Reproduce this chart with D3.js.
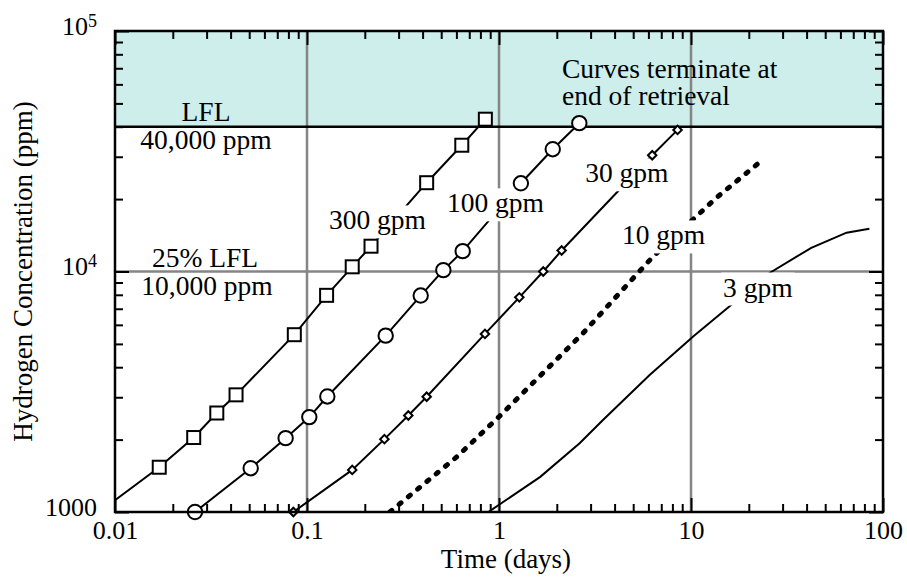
<!DOCTYPE html>
<html>
<head>
<meta charset="utf-8">
<script src="https://cdn.jsdelivr.net/npm/d3@7"></script>
<style>
  body { margin: 0; background: #fff; }
  svg text { font-family: "Liberation Serif", "Times New Roman", serif; fill: #000; }
</style>
</head>
<body>
<svg id="chart" width="907" height="578"></svg>
<script>

// time (days) and hydrogen concentration (ppm) for each retrieval rate
var t300 = [0.01, 0.017, 0.0257, 0.0339, 0.0427, 0.0859, 0.1265, 0.172, 0.2155, 0.42, 0.64, 0.849];
var c300 = [1120, 1535, 2040, 2580, 3070, 5460, 7960, 10460, 12740, 23400, 33500, 42980];

var t100 = [0.0261, 0.0509, 0.0774, 0.1028, 0.1276, 0.257, 0.391, 0.513, 0.647, 1.30, 1.905, 2.62];
var c100 = [1000, 1521, 2028, 2481, 3022, 5410, 7943, 10130, 12150, 23270, 32240, 41380];

var t30 = [0.0849, 0.172, 0.253, 0.337, 0.42, 0.845, 1.276, 1.70, 2.12, 6.28, 8.51];
var c30 = [1000, 1496, 2009, 2519, 3015, 5500, 7810, 10000, 12230, 30430, 38800];

var t10 = [0.27, 0.6, 1.0, 2.75, 4.1, 6.37, 13.6, 23.8];
var c10 = [1000, 1690, 2490, 5560, 7890, 11580, 20300, 29300];

var t3 = [0.88, 1.64, 2.63, 3.49, 6.11, 10.3, 25.8, 42.3, 64.6, 84.9];
var c3 = [1000, 1400, 1930, 2420, 3720, 5380, 9880, 12550, 14500, 15060];

var xMajor = [0.01, 0.1, 1, 10, 100];
var xMajorLabels = ["0.01", "0.1", "1", "10", "100"];
var yMajor = [1000, 10000, 100000];
var yMajorLabels = [["1000", ""], ["10", "4"], ["10", "5"]];

var lfl = 40000;
var gridX = [0.1, 1, 10];
var gridY = [10000];

var svg = d3.select("#chart");

var x = d3.scaleLog().domain([0.01, 100]).range([115, 883]);
var y = d3.scaleLog().domain([1000, 100000]).range([512, 31]);

var x0 = x.range()[0], x1 = x.range()[1];
var yb = y.range()[0], yt = y.range()[1];

svg.append("clipPath").attr("id", "plot")
  .append("rect")
  .attr("x", x0).attr("y", yt)
  .attr("width", x1 - x0).attr("height", yb - yt);

// flammable zone above LFL
svg.append("rect")
  .attr("x", x0).attr("y", yt)
  .attr("width", x1 - x0).attr("height", y(lfl) - yt)
  .attr("fill", "#cdeeea");

// decade grid
var grid = svg.append("g").attr("stroke", "#858585").attr("stroke-width", 2.5);
grid.selectAll(".gx").data(gridX).enter().append("line")
  .attr("x1", d => x(d)).attr("x2", d => x(d))
  .attr("y1", yt).attr("y2", yb);
grid.selectAll(".gy").data(gridY).enter().append("line")
  .attr("x1", x0).attr("x2", x1)
  .attr("y1", d => y(d)).attr("y2", d => y(d));

// LFL line
svg.append("line")
  .attr("x1", x0).attr("x2", x1)
  .attr("y1", y(lfl)).attr("y2", y(lfl))
  .attr("stroke", "#000").attr("stroke-width", 2.5);

var zip = function(ts, cs) {
  return ts.map(function(t, i) { return { t: t, c: cs[i] }; });
};

var series = [
  { data: zip(t300, c300), marker: "square", from: 1 },
  { data: zip(t100, c100), marker: "circle", from: 0 },
  { data: zip(t30, c30), marker: "diamond", from: 0 },
  { data: zip(t10, c10), marker: null, dotted: true },
  { data: zip(t3, c3), marker: null }
];

var line = d3.line().x(d => x(d.t)).y(d => y(d.c));

var curves = svg.append("g").attr("clip-path", "url(#plot)");
series.forEach(function(s) {
  curves.append("path")
    .attr("d", line(s.data))
    .attr("fill", "none")
    .attr("stroke", "#000")
    .attr("stroke-width", s.dotted ? 5 : 2)
    .attr("stroke-linecap", s.dotted ? "round" : "butt")
    .attr("stroke-dasharray", s.dotted ? "2.5,9.5" : null);
});

// curve labels, with white boxes that hide the lines behind them
var labels = [
  { text: "300 gpm", t: 0.130, c: 14960 },
  { text: "100 gpm", t: 0.536, c: 17620 },
  { text: "30 gpm", t: 2.81, c: 23490 },
  { text: "10 gpm", t: 4.37, c: 12960 },
  { text: "3 gpm", t: 14.7, c: 7870 }
];

var lab = svg.append("g");
labels.forEach(function(l) {
  var g = lab.append("g");
  var txt = g.append("text")
    .attr("x", x(l.t)).attr("y", y(l.c))
    .attr("font-size", 27.5)
    .text(l.text);
  var bb = txt.node().getBBox();
  g.insert("rect", "text")
    .attr("x", bb.x - 2).attr("y", bb.y + 1)
    .attr("width", bb.width + 4).attr("height", bb.height + 2)
    .attr("fill", "#fff");
});

// markers
var markers = svg.append("g");
series.forEach(function(s) {
  if (!s.marker) return;
  var pts = s.data.slice(s.from);
  var sel = markers.selectAll(null).data(pts).enter();
  if (s.marker === "square") {
    sel.append("rect")
      .attr("x", d => x(d.t) - 6.5).attr("y", d => y(d.c) - 6.5)
      .attr("width", 13).attr("height", 13)
      .attr("fill", "#fff").attr("stroke", "#000").attr("stroke-width", 2);
  } else if (s.marker === "circle") {
    sel.append("circle")
      .attr("cx", d => x(d.t)).attr("cy", d => y(d.c))
      .attr("r", 7.2)
      .attr("fill", "#fff").attr("stroke", "#000").attr("stroke-width", 2);
  } else {
    sel.append("rect")
      .attr("x", -3).attr("y", -3)
      .attr("width", 6).attr("height", 6)
      .attr("transform", d => `translate(${x(d.t)},${y(d.c)}) rotate(45)`)
      .attr("fill", "#fff").attr("stroke", "#000").attr("stroke-width", 2);
  }
});

// annotations
var notes = svg.append("g").attr("font-size", 27.5);
notes.append("text").attr("x", 562).attr("y", 78).text("Curves terminate at");
notes.append("text").attr("x", 562).attr("y", 105).text("end of retrieval");
notes.append("text").attr("x", 206).attr("y", 121).attr("text-anchor", "middle").text("LFL");
notes.append("text").attr("x", 206).attr("y", 149).attr("text-anchor", "middle").text("40,000 ppm");
notes.append("text").attr("x", 205).attr("y", 267).attr("text-anchor", "middle").text("25% LFL");
notes.append("text").attr("x", 207).attr("y", 295).attr("text-anchor", "middle").text("10,000 ppm");

// axes: inward ticks on all four sides
var xMinor = x.ticks().filter(d => xMajor.indexOf(d) < 0);
var yMinor = y.ticks().filter(d => yMajor.indexOf(d) < 0);

var styleAxis = function(g) {
  g.attr("font-family", null).attr("font-size", null);
  g.select(".domain").remove();
  g.selectAll(".tick line").attr("stroke", "#000").attr("stroke-width", 2);
  g.selectAll("text").attr("font-size", 26);
};

svg.append("g")
  .attr("transform", `translate(0,${yb})`)
  .call(d3.axisBottom(x).tickValues(xMajor).tickSize(-14).tickPadding(9)
    .tickFormat((d, i) => xMajorLabels[i]))
  .call(styleAxis);
svg.append("g")
  .attr("transform", `translate(0,${yb})`)
  .call(d3.axisBottom(x).tickValues(xMinor).tickSize(-8).tickFormat(""))
  .call(styleAxis);
svg.append("g")
  .attr("transform", `translate(0,${yt})`)
  .call(d3.axisTop(x).tickValues(xMajor).tickSize(-14).tickFormat(""))
  .call(styleAxis);
svg.append("g")
  .attr("transform", `translate(0,${yt})`)
  .call(d3.axisTop(x).tickValues(xMinor).tickSize(-8).tickFormat(""))
  .call(styleAxis);

var yAxisG = svg.append("g")
  .attr("transform", `translate(${x0},0)`)
  .call(d3.axisLeft(y).tickValues(yMajor).tickSize(-14).tickPadding(18)
    .tickFormat(""))
  .call(styleAxis);
yAxisG.selectAll(".tick text").each(function(d, i) {
  var t = d3.select(this).attr("dy", "0.12em");
  var lbl = yMajorLabels[i];
  t.append("tspan").text(lbl[0]);
  if (lbl[1]) {
    t.append("tspan").attr("dy", "-0.45em").attr("font-size", 18).text(lbl[1]);
  }
});
svg.append("g")
  .attr("transform", `translate(${x0},0)`)
  .call(d3.axisLeft(y).tickValues(yMinor).tickSize(-8).tickFormat(""))
  .call(styleAxis);
svg.append("g")
  .attr("transform", `translate(${x1},0)`)
  .call(d3.axisRight(y).tickValues(yMajor).tickSize(-14).tickFormat(""))
  .call(styleAxis);
svg.append("g")
  .attr("transform", `translate(${x1},0)`)
  .call(d3.axisRight(y).tickValues(yMinor).tickSize(-8).tickFormat(""))
  .call(styleAxis);

// frame
svg.append("rect")
  .attr("x", x0).attr("y", yt)
  .attr("width", x1 - x0).attr("height", yb - yt)
  .attr("fill", "none").attr("stroke", "#000").attr("stroke-width", 2.5);

// axis titles
svg.append("text")
  .attr("x", 506).attr("y", 568)
  .attr("text-anchor", "middle").attr("font-size", 27)
  .text("Time (days)");
svg.append("text")
  .attr("transform", `translate(32,${(yt + yb) / 2}) rotate(-90)`)
  .attr("text-anchor", "middle").attr("font-size", 27)
  .text("Hydrogen Concentration (ppm)");

</script>
</body>
</html>
